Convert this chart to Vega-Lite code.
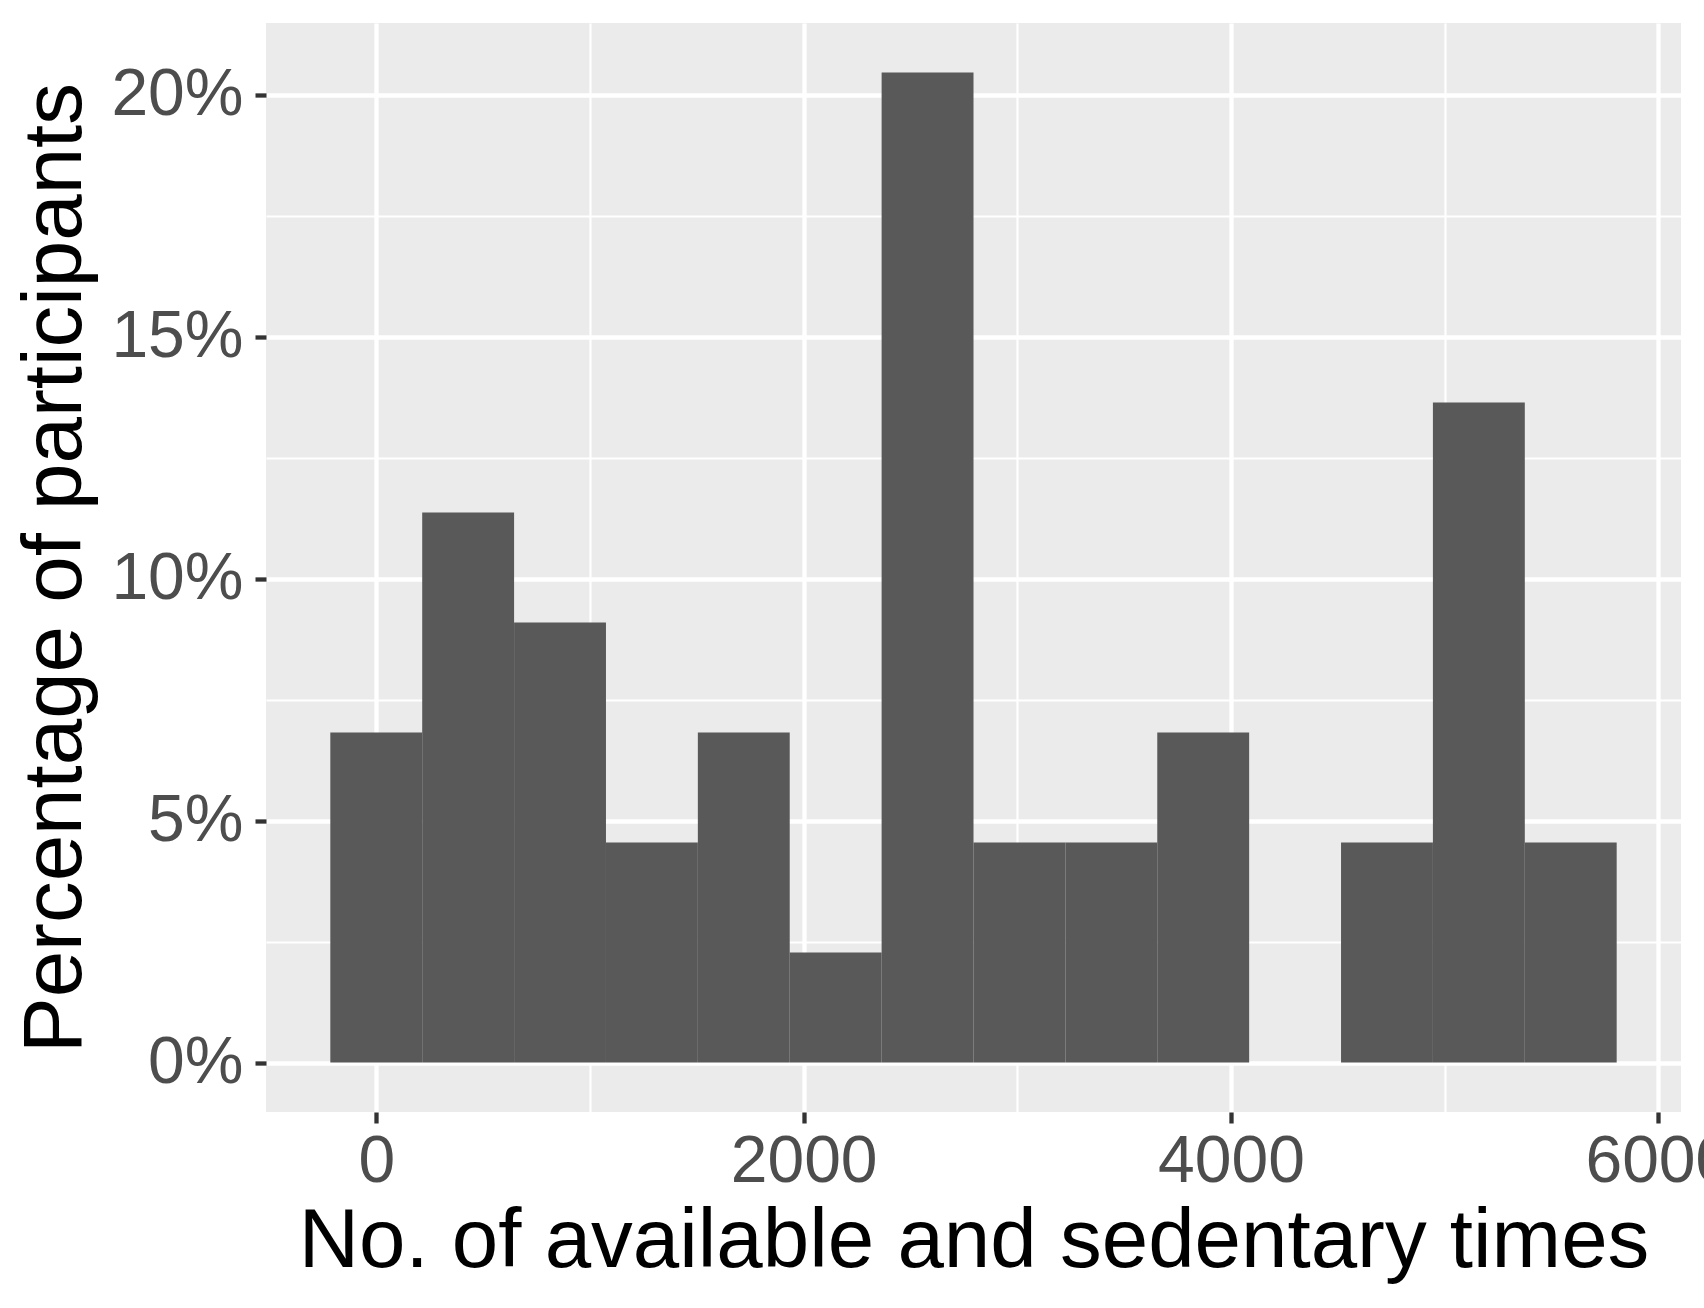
{
  "$schema": "https://vega.github.io/schema/vega-lite/v6.json",
  "width": 1415,
  "height": 1089,
  "autosize": {"type": "none"},
  "padding": {"left": 266, "top": 23, "right": 23, "bottom": 196},
  "background": "white",
  "config": {
    "view": {"fill": "#EBEBEB", "stroke": null},
    "font": "Liberation Sans"
  },
  "data": {
    "values": [
      {"x0": -215, "x1": 215, "pct": 0.068182},
      {"x0": 215, "x1": 645, "pct": 0.113636},
      {"x0": 645, "x1": 1075, "pct": 0.090909},
      {"x0": 1075, "x1": 1505, "pct": 0.045455},
      {"x0": 1505, "x1": 1935, "pct": 0.068182},
      {"x0": 1935, "x1": 2365, "pct": 0.022727},
      {"x0": 2365, "x1": 2795, "pct": 0.204545},
      {"x0": 2795, "x1": 3225, "pct": 0.045455},
      {"x0": 3225, "x1": 3655, "pct": 0.045455},
      {"x0": 3655, "x1": 4085, "pct": 0.068182},
      {"x0": 4085, "x1": 4515, "pct": 0},
      {"x0": 4515, "x1": 4945, "pct": 0.045455},
      {"x0": 4945, "x1": 5375, "pct": 0.136364},
      {"x0": 5375, "x1": 5805, "pct": 0.045455}
    ]
  },
  "layer": [
    {
      "mark": {"type": "rect", "opacity": 0},
      "encoding": {
        "x": {
          "field": "x0", "type": "quantitative",
          "scale": {"domain": [-516, 6106], "nice": false, "zero": false},
          "axis": {"orient": "bottom", "values": [1000, 3000, 5000], "grid": true, "gridColor": "white", "gridWidth": 2.15, "labels": false, "ticks": false, "domain": false, "title": null}
        },
        "x2": {"field": "x1"},
        "y": {
          "field": "pct", "type": "quantitative",
          "scale": {"domain": [-0.010227, 0.214773], "nice": false, "zero": false},
          "axis": {"orient": "left", "values": [0.025, 0.075, 0.125, 0.175], "grid": true, "gridColor": "white", "gridWidth": 2.15, "labels": false, "ticks": false, "domain": false, "title": null}
        },
        "y2": {"datum": 0}
      }
    },
    {
      "mark": {"type": "rect", "fill": "#595959"},
      "encoding": {
        "x": {
          "field": "x0", "type": "quantitative",
          "scale": {"domain": [-516, 6106], "nice": false, "zero": false},
          "axis": {
            "orient": "bottom",
            "values": [0, 2000, 4000, 6000],
            "format": "d",
            "grid": true, "gridColor": "white", "gridWidth": 4.3,
            "domain": false,
            "ticks": true, "tickColor": "#333333", "tickWidth": 4.3, "tickSize": 11,
            "labelFont": "Liberation Sans", "labelFontSize": 66, "labelColor": "#4D4D4D", "labelPadding": 6,
            "labelOverlap": false, "labelFlush": false,
            "title": "No. of available and sedentary times",
            "titleFont": "Liberation Sans", "titleFontSize": 83.5, "titleFontWeight": "normal", "titleColor": "black", "titlePadding": 6
          }
        },
        "x2": {"field": "x1"},
        "y": {
          "field": "pct", "type": "quantitative",
          "scale": {"domain": [-0.010227, 0.214773], "nice": false, "zero": false},
          "axis": {
            "orient": "left",
            "values": [0, 0.05, 0.1, 0.15, 0.2],
            "format": ".0%",
            "grid": true, "gridColor": "white", "gridWidth": 4.3,
            "domain": false,
            "ticks": true, "tickColor": "#333333", "tickWidth": 4.3, "tickSize": 11,
            "labelFont": "Liberation Sans", "labelFontSize": 66, "labelColor": "#4D4D4D", "labelPadding": 12,
            "labelOverlap": false, "labelFlush": false,
            "title": "Percentage of participants",
            "titleFont": "Liberation Sans", "titleFontSize": 83.5, "titleFontWeight": "normal", "titleColor": "black", "titlePadding": 12
          }
        },
        "y2": {"datum": 0}
      }
    }
  ],
  "resolve": {"axis": {"x": "independent", "y": "independent"}}
}
